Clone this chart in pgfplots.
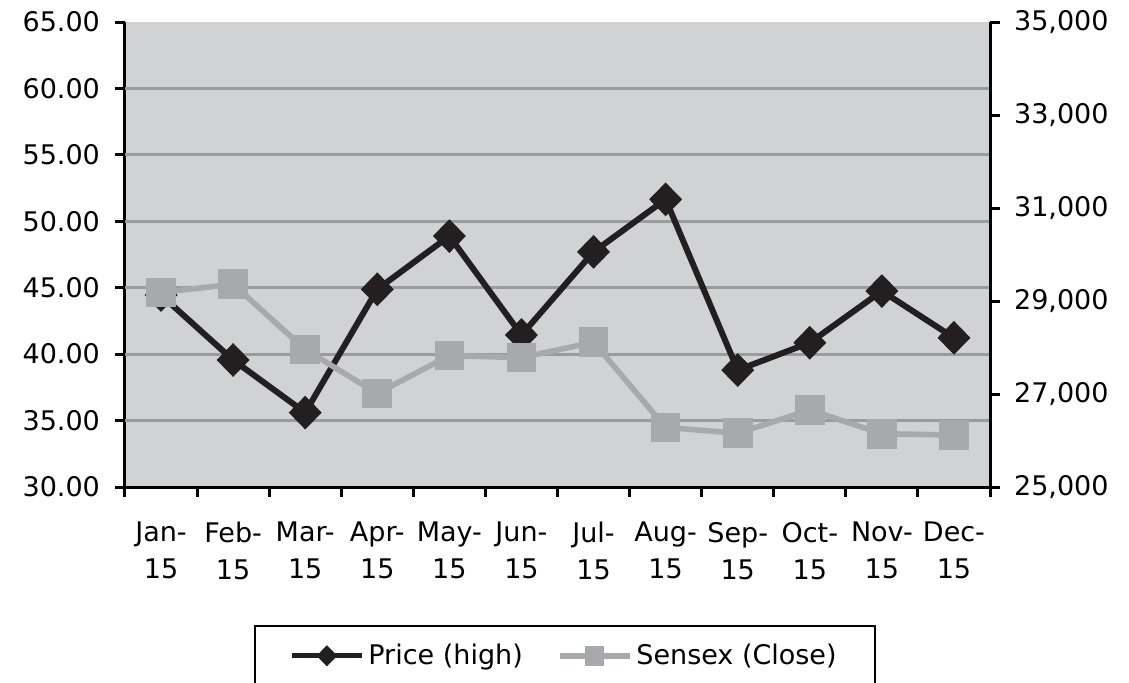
\documentclass[border=0pt]{standalone}
\usepackage{pgfplots}
\pgfplotsset{compat=1.18}
\usepackage{fontspec}
\setmainfont{DejaVu Sans}
\definecolor{bggray}{HTML}{D1D2D4}
\definecolor{gridgray}{HTML}{9A9B9D}
\definecolor{pricecol}{HTML}{231F20}
\definecolor{sensexcol}{HTML}{A7A9AC}
\newcommand{\lblfont}{\fontsize{13.5}{17.5}\selectfont}
\newcommand{\xlblfont}{\fontsize{13.5}{18.5}\selectfont}
\begin{document}
\begin{tikzpicture}
\useasboundingbox (0,0) rectangle (564.5pt,341pt);
\begin{axis}[
  at={(62.5pt,97.5pt)}, anchor=south west,
  scale only axis, width=432.5pt, height=232.5pt,
  xmin=-0.5, xmax=11.5, ymin=30, ymax=65,
  axis background/.style={fill=bggray},
  axis x line*=bottom, axis y line*=left,
  axis line style={line width=1.5pt, black, -},
  tick style={line width=1.5pt, black},
  tick align=outside,
  major tick length=5pt,
  xtick={-0.5,0.5,...,11.5}, xticklabels={},
  extra x ticks={0,1,2,3,4,5,6,7,8,9,10,11},
  extra x tick labels={{Jan-\\15},{Feb-\\15},{Mar-\\15},{Apr-\\15},{May-\\15},{Jun-\\15},{Jul-\\15},{Aug-\\15},{Sep-\\15},{Oct-\\15},{Nov-\\15},{Dec-\\15}},
  extra x tick style={major tick length=0pt, tick style={draw=none}},
  xticklabel style={align=center, font=\xlblfont, yshift=-14pt},
  ytick={30,35,...,65},
  yticklabel style={font=\lblfont, xshift=-4pt},
  extra y ticks={35,40,45,50,55,60},
  extra y tick labels={},
  extra y tick style={grid=major, major tick length=0pt},
  grid style={gridgray, line width=1.5pt},
  /pgf/number format/.cd, fixed, fixed zerofill, precision=2, assume math mode=true,
]
\addplot[pricecol, line width=3pt, mark=diamond*, mark size=6.3pt, mark options={xscale=1.3, solid}]
  coordinates {(0,44.45) (1,39.56) (2,35.6) (3,44.88) (4,48.89) (5,41.44) (6,47.7) (7,51.65) (8,38.8) (9,40.86) (10,44.75) (11,41.23)};
\end{axis}
\begin{axis}[
  at={(62.5pt,97.5pt)}, anchor=south west,
  scale only axis, width=432.5pt, height=232.5pt,
  xmin=-0.5, xmax=11.5, ymin=25000, ymax=35000,
  axis x line=none, axis y line*=right,
  axis line style={line width=1.5pt, black, -},
  tick style={line width=1.5pt, black},
  tick align=outside,
  major tick length=5pt,
  ytick={25000,27000,...,35000},
  scaled y ticks=false,
  yticklabel style={font=\lblfont, xshift=3.5pt},
  /pgf/number format/.cd, 1000 sep={,}, assume math mode=true, /pgfplots/.cd,
  legend columns=2,
  legend style={at={(0.5087,-0.2968)}, anchor=north, draw=black, line width=1pt,
    font=\lblfont, inner xsep=17pt, inner ysep=7pt,
    /tikz/every even column/.append style={column sep=15pt}},
  legend image code/.code={\draw[mark repeat=2, mark phase=2, mark size=3.5pt] plot coordinates {(0pt,0pt) (17.5pt,0pt) (35pt,0pt)};},
]
\addlegendimage{pricecol, line width=2.5pt, mark=diamond*, mark options={xscale=1.3, solid}}
\addlegendentry{Price (high)}
\addplot[sensexcol, line width=2.8pt, mark=square*, mark size=6pt, mark options={solid}]
  coordinates {(0,29183) (1,29361) (2,27957) (3,27011) (4,27828) (5,27781) (6,28115) (7,26283) (8,26155) (9,26657) (10,26146) (11,26118)};
\addlegendentry{Sensex (Close)}
\end{axis}
\end{tikzpicture}
\end{document}
